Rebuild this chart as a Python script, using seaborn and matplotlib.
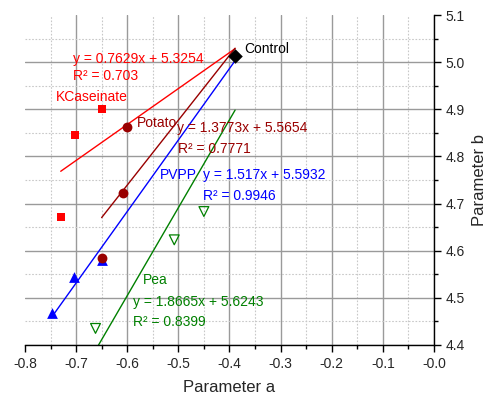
import numpy as np
import pandas as pd
import seaborn as sns
import matplotlib.pyplot as plt
from matplotlib.ticker import MultipleLocator

# Data
control_x = [-0.389]
control_y = [5.013]

kcas_x = [-0.730, -0.703, -0.650]
kcas_y = [4.672, 4.846, 4.900]

potato_x = [-0.650, -0.609, -0.600]
potato_y = [4.585, 4.723, 4.863]

pvpp_x = [-0.748, -0.705, -0.650]
pvpp_y = [4.467, 4.544, 4.580]

pea_x = [-0.662, -0.508, -0.450]
pea_y = [4.435, 4.623, 4.683]

# Linear fits (slope, intercept, R²)
fit_kcas = (0.7629, 5.3254, 0.703)
fit_potato = (1.3773, 5.5654, 0.7771)
fit_pvpp = (1.517, 5.5932, 0.9946)
fit_pea = (1.8665, 5.6243, 0.8399)

red = '#FF0000'
dred = '#990000'
blue = '#0000FF'
green = '#008000'

sns.set_style('white')
plt.rcParams['font.family'] = ['Liberation Sans', 'DejaVu Sans']

fig = plt.figure(figsize=(4.89, 3.96), dpi=100)
ax = fig.add_axes([0.051, 0.129, 0.8365, 0.833])

# Grid
ax.xaxis.set_major_locator(MultipleLocator(0.1))
ax.xaxis.set_minor_locator(MultipleLocator(0.05))
ax.yaxis.set_major_locator(MultipleLocator(0.1))
ax.yaxis.set_minor_locator(MultipleLocator(0.05))
ax.grid(which='major', color='#9a9a9a', linewidth=1.0, linestyle='-')
ax.grid(which='minor', color='#c8c8c8', linewidth=0.8, linestyle=(0, (1.5, 1.5)))
ax.set_axisbelow(True)

# Fit lines, drawn from the group's first point to the control point
def fit_line(xs, fit, color):
    x0, x1 = min(xs), control_x[0]
    lx = np.array([x0, x1])
    d = pd.DataFrame({'x': lx, 'y': fit[0] * lx + fit[1]})
    sns.lineplot(data=d, x='x', y='y', color=color, linewidth=1.0, ax=ax)

fit_line(kcas_x, fit_kcas, red)
fit_line(potato_x, fit_potato, dred)
fit_line(pvpp_x, fit_pvpp, blue)
fit_line(pea_x, fit_pea, green)

# Points
sns.scatterplot(x=kcas_x, y=kcas_y, marker='s', s=36, color=red, edgecolor=red, linewidth=0, ax=ax, zorder=3)
sns.scatterplot(x=pvpp_x, y=pvpp_y, marker='^', s=60, color=blue, edgecolor=blue, linewidth=0, ax=ax, zorder=3)
sns.scatterplot(x=potato_x, y=potato_y, marker='o', s=50, color=dred, edgecolor=dred, linewidth=0, ax=ax, zorder=4)
sns.scatterplot(x=pea_x, y=pea_y, marker='v', s=50, facecolor='none', edgecolor=green, linewidth=0.9, ax=ax, zorder=3)
sns.scatterplot(x=control_x, y=control_y, marker='D', s=55, color='black', edgecolor='black', linewidth=0, ax=ax, zorder=5)

# Annotations
fs = 10
ax.text(-0.371, 5.028, 'Control', color='black', fontsize=fs, va='center', ha='left')
ax.text(-0.706, 5.007, 'y = 0.7629x + 5.3254', color=red, fontsize=fs, va='center')
ax.text(-0.706, 4.971, 'R² = 0.703', color=red, fontsize=fs, va='center')
ax.text(-0.739, 4.927, 'KCaseinate', color=red, fontsize=fs, va='center')
ax.text(-0.581, 4.871, 'Potato', color=dred, fontsize=fs, va='center')
ax.text(-0.502, 4.861, 'y = 1.3773x + 5.5654', color=dred, fontsize=fs, va='center')
ax.text(-0.500, 4.816, 'R² = 0.7771', color=dred, fontsize=fs, va='center')
ax.text(-0.537, 4.761, 'PVPP', color=blue, fontsize=fs, va='center')
ax.text(-0.451, 4.761, 'y = 1.517x + 5.5932', color=blue, fontsize=fs, va='center')
ax.text(-0.451, 4.715, 'R² = 0.9946', color=blue, fontsize=fs, va='center')
ax.text(-0.570, 4.537, 'Pea', color=green, fontsize=fs, va='center')
ax.text(-0.588, 4.492, 'y = 1.8665x + 5.6243', color=green, fontsize=fs, va='center')
ax.text(-0.588, 4.448, 'R² = 0.8399', color=green, fontsize=fs, va='center')

ax.set_xlim(-0.8, 0.0)
ax.set_ylim(4.4, 5.1)

# Axes styling: bottom and right spines only
for side in ['top', 'left']:
    ax.spines[side].set_visible(False)
for side in ['bottom', 'right']:
    ax.spines[side].set_color('black')
    ax.spines[side].set_linewidth(1.0)

ax.yaxis.tick_right()
ax.yaxis.set_label_position('right')
ax.tick_params(which='major', direction='out', length=5, width=1, color='black',
               labelsize=10, bottom=True, right=True, left=False, top=False)
ax.tick_params(which='minor', direction='out', length=3, width=1, color='black',
               bottom=True, right=True, left=False, top=False)
ax.set_xticks(np.arange(-0.8, 0.01, 0.1))
ax.set_xticklabels([f'{v:.1f}' for v in np.arange(-0.8, 0.01, 0.1)])
ax.set_yticklabels([f'{v:.1f}' for v in ax.get_yticks()])

# no gridlines on the open left and top edges
for t in ax.xaxis.get_major_ticks():
    if abs(t.get_loc() + 0.8) < 1e-6:
        t.gridline.set_visible(False)
for t in ax.yaxis.get_major_ticks():
    if abs(t.get_loc() - 5.1) < 1e-6:
        t.gridline.set_visible(False)

ax.set_xlabel('Parameter a', fontsize=12, labelpad=7)
ax.set_ylabel('Parameter b', fontsize=12, labelpad=5)

fig.savefig('out.png', dpi=100)
